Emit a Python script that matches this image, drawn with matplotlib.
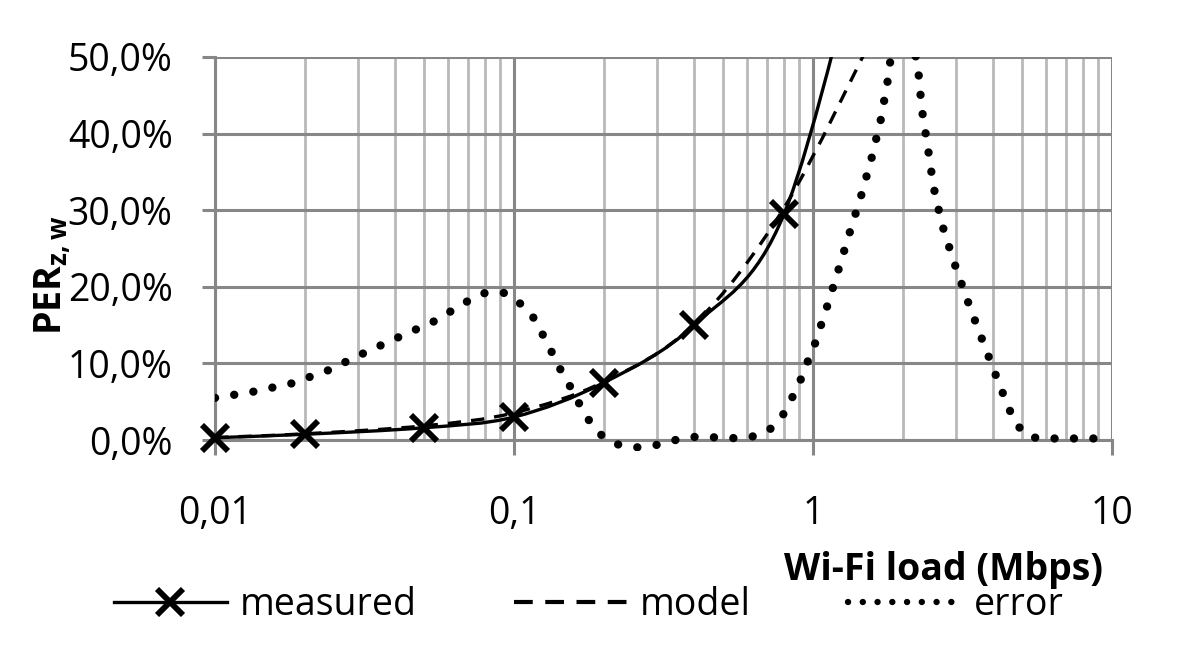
import numpy as np
import matplotlib
matplotlib.use("Agg")
import matplotlib.pyplot as plt
from matplotlib.path import Path
from matplotlib.patches import PathPatch, Rectangle
from matplotlib.lines import Line2D
from matplotlib.ticker import FixedLocator, FuncFormatter, NullFormatter

plt.rcParams['font.family'] = ['Open Sans', 'DejaVu Sans']
plt.rcParams['font.size'] = 27

# measured points (PER %, Wi-Fi load in Mbps); the last one lies above the plot
measured_x = [0.01, 0.02, 0.05, 0.1, 0.2, 0.4, 0.8, 1.6]
measured_y = [0.3, 0.75, 1.6, 3.0, 7.5, 15.0, 29.5, 72.0]

# model, same loads
model_x = [0.01, 0.02, 0.05, 0.1, 0.2, 0.4, 0.8, 1.6]
model_y = [0.32, 0.81, 1.85, 3.55, 7.6, 15.1, 30.3, 53.0]

# error curve
error_x = [0.0100, 0.0134, 0.0181, 0.0239, 0.0313, 0.0410, 0.0541, 0.0698, 0.0800,
           0.0927, 0.105, 0.116, 0.125, 0.134, 0.143, 0.154, 0.165, 0.178, 0.196,
           0.222, 0.258, 0.299, 0.347, 0.401, 0.466, 0.541, 0.627, 0.718, 0.794,
           0.851, 0.908, 0.959, 1.014, 1.114, 1.216, 1.327, 1.449, 1.570, 1.683,
           1.774, 1.811, 2.00, 2.249, 2.312, 2.421, 2.529, 2.698, 2.951, 3.258,
           3.622, 4.036, 4.498, 4.786, 5.333, 6.180, 10.0]
error_y = [5.5, 6.3, 7.4, 9.1, 11.3, 13.4, 15.5, 18.1, 19.2,
           19.2, 17.8, 16.0, 13.7, 11.4, 9.2, 7.0, 4.8, 2.6, 0.65,
           -0.57, -0.96, -0.65, 0.0, 0.4, 0.35, 0.25, 0.45, 1.4, 3.3,
           5.5, 7.8, 10.2, 12.5, 17.4, 22.2, 27.1, 31.9, 36.8, 41.7,
           46.7, 49.3, 59.0, 48.3, 43.2, 38.2, 33.1, 28.2, 23.4, 18.6,
           13.8, 9.0, 4.3, 2.0, 0.35, 0.2, 0.2]

x_ticks = [0.01, 0.1, 1, 10]
x_ticklabels = ['0,01', '0,1', '1', '10']
y_ticks = [0, 10, 20, 30, 40, 50]

major_c = '#878787'
minor_c = '#b9b9b9'


def smooth_path(xs, ys):
    # excel-like smoothed line: bezier through the points, built in log-x space
    lx = np.log10(xs)
    y = np.asarray(ys, dtype=float)
    n = len(lx)
    verts = [(xs[0], y[0])]
    codes = [Path.MOVETO]
    for i in range(n - 1):
        i0 = max(i - 1, 0)
        i3 = min(i + 2, n - 1)
        c1 = (lx[i] + (lx[i + 1] - lx[i0]) / 6, y[i] + (y[i + 1] - y[i0]) / 6)
        c2 = (lx[i + 1] - (lx[i3] - lx[i]) / 6, y[i + 1] - (y[i3] - y[i]) / 6)
        verts += [(10 ** c1[0], c1[1]), (10 ** c2[0], c2[1]), (xs[i + 1], y[i + 1])]
        codes += [Path.CURVE4] * 3
    return Path(verts, codes)


fig = plt.figure(figsize=(12, 6.69), dpi=100)
ax = fig.add_axes([215 / 1200, 1 - 440 / 669, 897 / 1200, 383 / 669])
ax.set_xscale('log')
ax.set_xlim(0.01, 10)
ax.set_ylim(0, 50)

# grid
ax.xaxis.set_major_locator(FixedLocator(x_ticks))
ax.xaxis.set_minor_locator(FixedLocator([m * d for d in [0.01, 0.1, 1] for m in range(2, 10)]))
ax.xaxis.set_major_formatter(FuncFormatter(lambda v, p: x_ticklabels[x_ticks.index(v)] if v in x_ticks else ''))
ax.xaxis.set_minor_formatter(NullFormatter())
ax.yaxis.set_major_locator(FixedLocator(y_ticks))
ax.yaxis.set_major_formatter(FuncFormatter(lambda v, p: f'{v:.1f}%'.replace('.', ',')))
ax.grid(True, which='major', color=major_c, lw=2.2)
ax.grid(True, which='minor', axis='x', color=minor_c, lw=2.0)
ax.set_axisbelow(True)
for s in ['top', 'right']:
    ax.spines[s].set_visible(False)
for s in ['left', 'bottom']:
    ax.spines[s].set_color(major_c)
    ax.spines[s].set_linewidth(2.2)
ax.tick_params(axis='x', which='major', length=10.5, width=2.2, color=major_c, pad=29)
ax.tick_params(axis='x', which='minor', length=0)
ax.tick_params(axis='y', length=9.5, width=2.2, color=major_c, pad=21)

# curves
ax.add_patch(PathPatch(smooth_path(model_x, model_y), fill=False, color='k', lw=2.4,
                       linestyle=(0, (4, 3)), zorder=3))
ax.add_patch(PathPatch(smooth_path(measured_x, measured_y), fill=False, color='k', lw=2.4, zorder=4))
vis = [i for i, v in enumerate(measured_y) if v <= 50]
ax.plot([measured_x[i] for i in vis], [measured_y[i] for i in vis], linestyle='none',
        marker='x', ms=19, mew=4.2, color='k', clip_on=False, zorder=5)
err_line, = ax.plot(error_x, error_y, color='k', lw=6.0, linestyle=(0, (0.01, 2.32)),
                    dash_capstyle='round', zorder=3)
err_line.set_clip_path(Rectangle((0, -0.03), 1, 1.03, transform=ax.transAxes))

# labels
ax.set_ylabel(r'PER$_{\mathregular{z,w}}$', fontweight='bold', fontsize=27)
ax.yaxis.set_label_coords(-0.159, 0.43)
fig.text(1103 / 1200, 1 - 580 / 669, 'Wi-Fi load (Mbps)', ha='right', va='baseline',
         fontweight='bold', fontsize=27)

handles = [
    Line2D([], [], color='k', lw=2.4, marker='x', ms=19, mew=4.2),
    Line2D([], [], color='k', lw=3.0, linestyle=(0, (4.5, 3))),
    Line2D([], [], color='k', lw=4.6, linestyle=(0, (0.01, 2.3)), dash_capstyle='round'),
]
fig.legend(handles, ['measured', 'model', 'error'], loc='center', ncol=3,
           bbox_to_anchor=(589 / 1200, 1 - 605 / 669), frameon=False,
           handlelength=3.0, handletextpad=0.35, columnspacing=2.6, numpoints=1)

fig.savefig('out.png', dpi=100)
